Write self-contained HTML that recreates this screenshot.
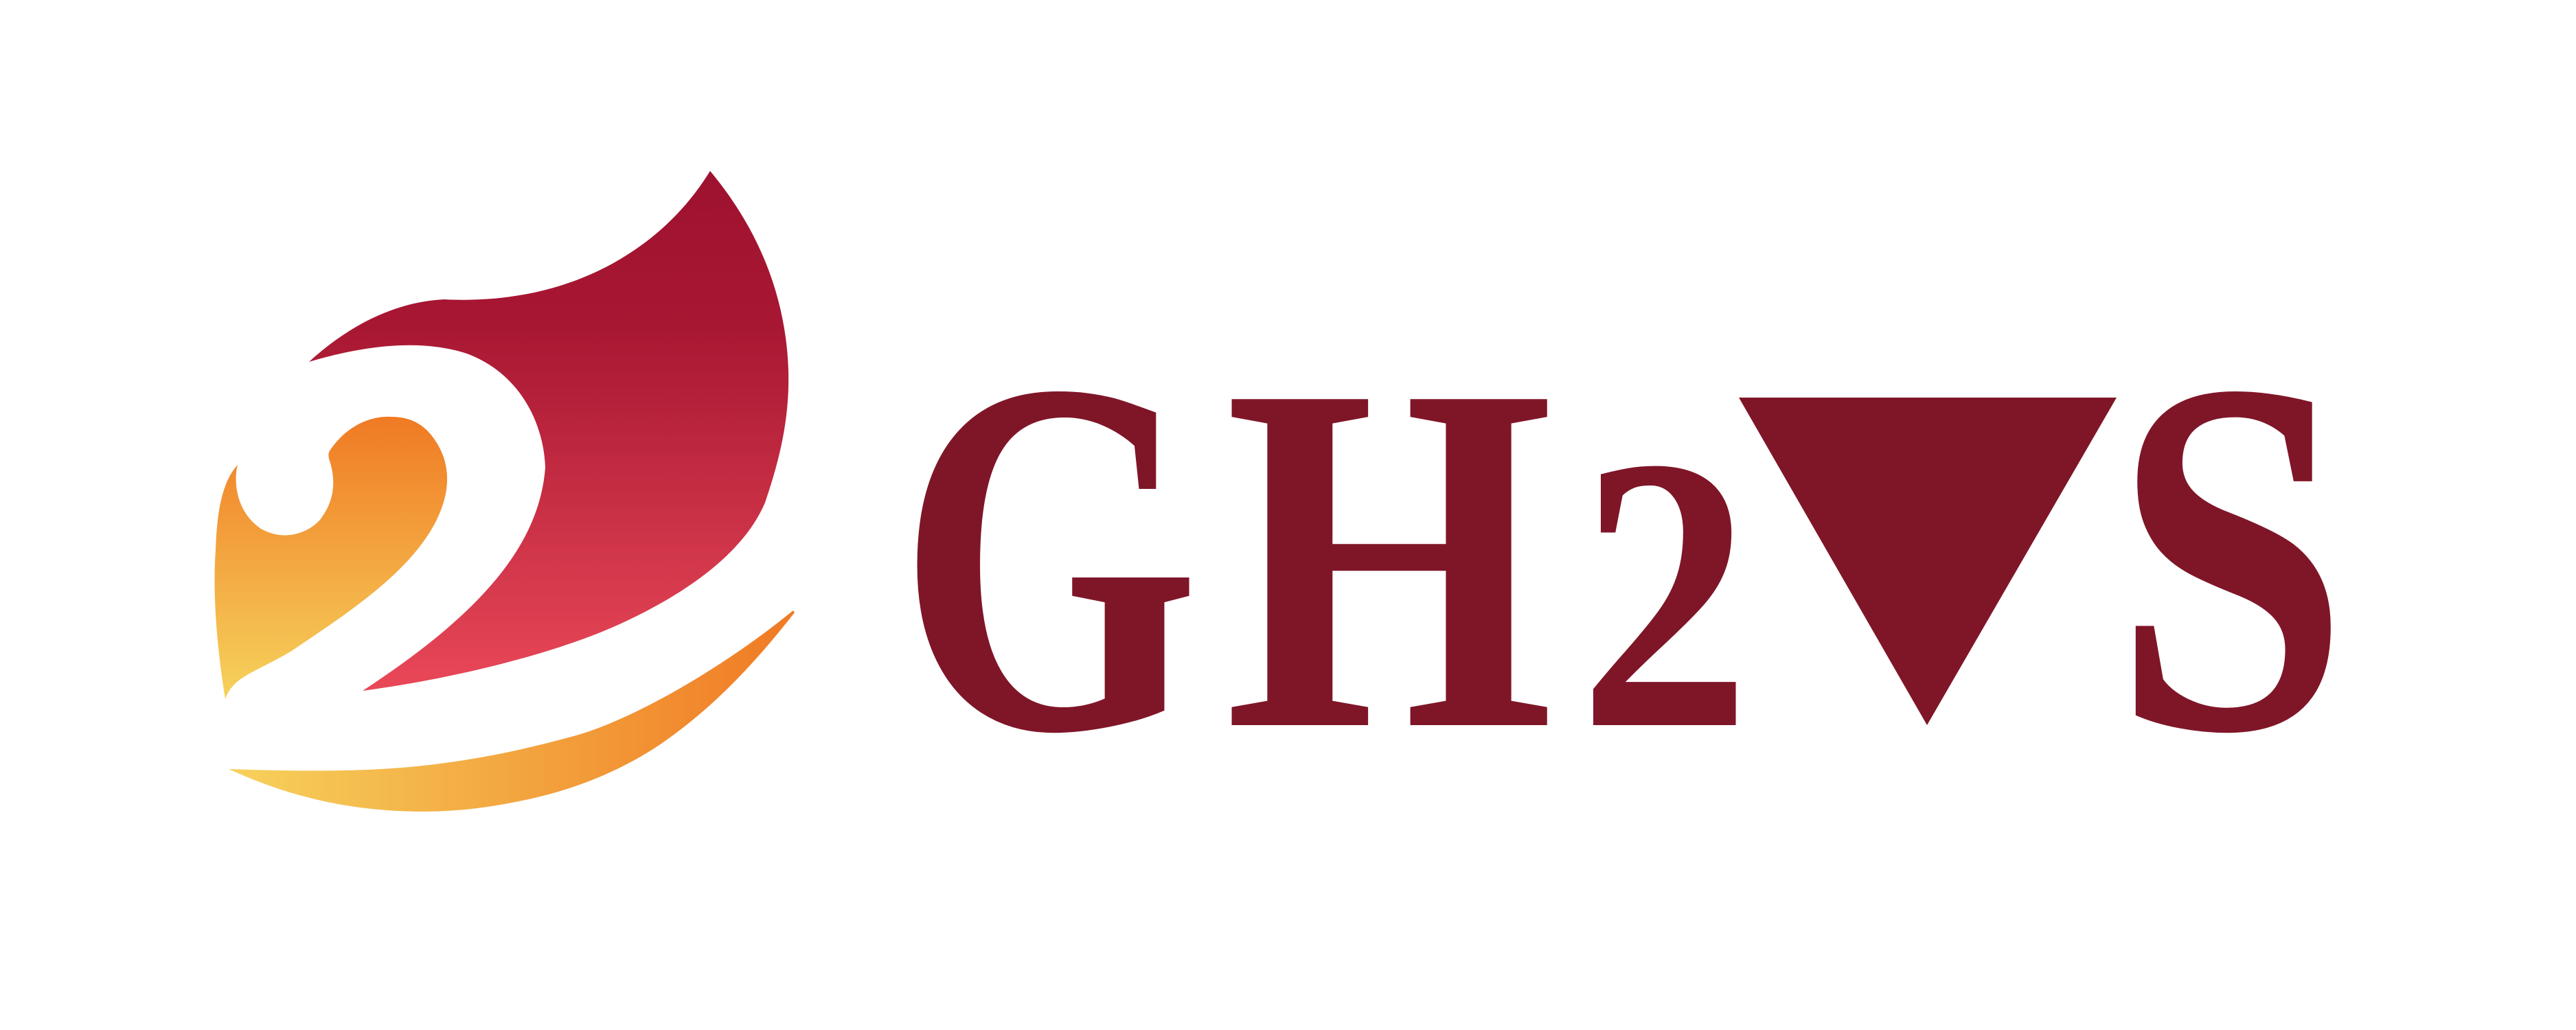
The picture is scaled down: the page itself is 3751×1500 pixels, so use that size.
<!DOCTYPE html>
<html><head><meta charset="utf-8"><style>
html,body{margin:0;padding:0;background:#fff;}
svg{display:block;}
</style></head><body>
<svg width="3751" height="1500" viewBox="0 0 3751 1500" xmlns="http://www.w3.org/2000/svg">
<defs>
<linearGradient id="gRed" x1="0" y1="0" x2="0" y2="1">
<stop offset="0" stop-color="#9e1230"/><stop offset="0.3" stop-color="#a81732"/><stop offset="1" stop-color="#e94858"/></linearGradient>
<linearGradient id="gOr" x1="0" y1="0" x2="0" y2="1">
<stop offset="0" stop-color="#f07a24"/><stop offset="1" stop-color="#f6d25c"/></linearGradient>
<linearGradient id="gSw" x1="0" y1="0" x2="1" y2="0">
<stop offset="0" stop-color="#f6d25c"/><stop offset="1" stop-color="#f07a24"/></linearGradient>
</defs>
<rect width="3751" height="1500" fill="#fff"/>
<g>
<path fill="url(#gRed)" d="M1034,249 C960,370 820,445 647,436 C560,440 490,490 450,527 C540,500 620,495 680,515 C760,545 792,620 794,681 C785,800 690,900 528,1006 C650,990 800,955 900,910 C1010,860 1085,800 1114,732 C1135,670 1150,610 1148,540 C1145,440 1110,340 1034,249 Z"/>
<path fill="url(#gOr)" d="M346,677 C340,700 343,745 380,770 C415,790 450,775 466,757 C487,730 490,700 479,668 C478,662 478,660 481,655 C505,620 540,605 570,607 C600,607 620,620 634,642 C660,680 660,735 608,800 C560,860 480,910 423,949 C370,980 340,985 328,1018 C314,930 310,860 314,800 C316,740 325,700 346,677 Z"/>
<path fill="url(#gSw)" d="M333,1120 C480,1125 560,1122 634,1113 C720,1102 780,1087 839,1071 C920,1048 1050,975 1155,889 L1157,892 C1100,965 1040,1030 960,1085 C900,1125 830,1152 760,1166 C680,1183 621,1183 580,1181 C500,1177 420,1160 333,1120 Z"/>
</g>
<g fill="#7f1628" font-family="Liberation Serif, serif" font-weight="bold">
<text x="1308" y="1060" font-size="740" textLength="439" lengthAdjust="spacingAndGlyphs">G</text>
<text x="1783" y="1056" font-size="725" textLength="480" lengthAdjust="spacingAndGlyphs">H</text>
<text x="2299" y="1056" font-size="570" textLength="250" lengthAdjust="spacingAndGlyphs">2</text>
<polygon points="2532,579 3082,579 2806,1056"/>
<text x="3077" y="1060" font-size="740" textLength="343" lengthAdjust="spacingAndGlyphs">S</text>
</g>
</svg>
</body></html>
